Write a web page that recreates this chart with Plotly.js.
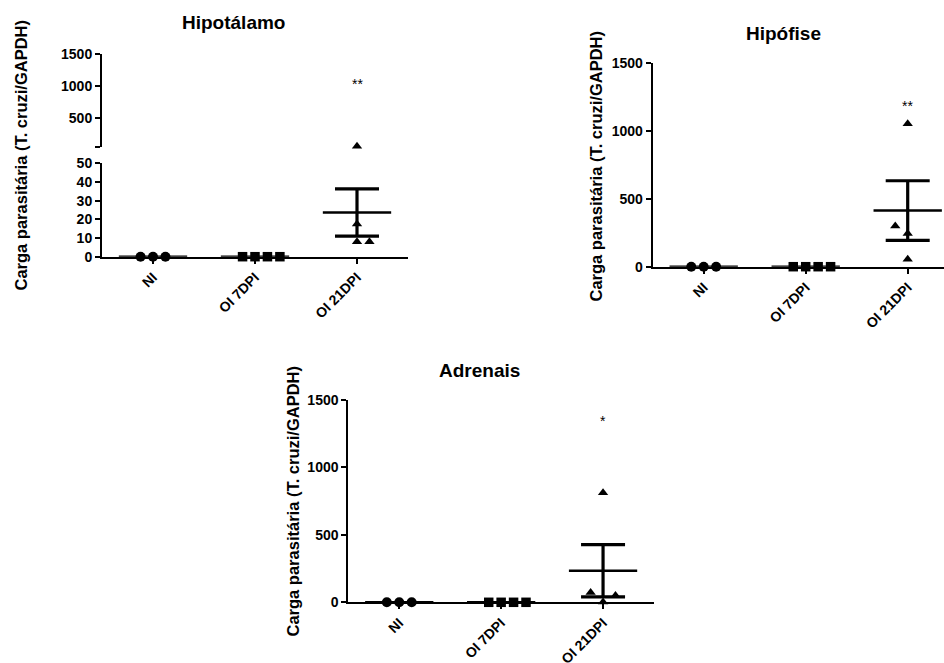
<!DOCTYPE html>
<html>
<head>
<meta charset="utf-8">
<script src="https://cdn.plot.ly/plotly-3.0.1.min.js"></script>
<style>html,body{margin:0;padding:0;background:#fff;}#chart{width:944px;height:663px;}</style>
</head>
<body>
<div id="chart"></div>
<script>
// ---- data ----
const categories = ['NI', 'OI 7DPI', 'OI 21DPI'];
const panelTitles = ['Hipotálamo', 'Hipófise', 'Adrenais'];
const yTitle = 'Carga parasitária (T. cruzi/GAPDH)';

const hipotalamoNI = [0, 0, 0];
const hipotalamoOI7 = [0, 0, 0, 0];
const hipotalamoOI21 = [61, 17.5, 8, 8];

const hipofiseNI = [0, 0, 0];
const hipofiseOI7 = [0, 0, 0, 0];
const hipofiseOI21 = [1055, 300, 245, 55];

const adrenaisNI = [0, 0, 0];
const adrenaisOI7 = [0, 0, 0, 0];
const adrenaisOI21 = [813, 72, 50, 2];

const lowerTicks = [0, 10, 20, 30, 40, 50];
const upperTicks = [500, 1000, 1500];
const fullTicks = [0, 500, 1000, 1500];

const significance = ['**', '**', '*'];

// dot-plot jitter slots (layout helper, not data)
const slotsNI = [-1, 0, 1];
const slotsOI7 = [-1, 0, 1, 2];
const slotsHipotOI21 = [0, 0, 0, 1];
const slotsHipofOI21 = [0, -1, 0, 0];
const slotsAdrenOI21 = [0, -1, 1, 0];

// ---- helpers ----
const FONT = 'Liberation Sans, Arial, Helvetica, sans-serif';
const symbols = ['circle', 'square', 'triangle-up'];
const sizes = [10, 9.5, 9];
const SLOT = 0.122;
const W = 944, H = 663;
const px = v => v / W;
const py = v => 1 - v / H;
const b = t => '<b>' + t + '</b>';

function mean(a) { return a.reduce((s, v) => s + v, 0) / a.length; }
function sem(a) {
  const m = mean(a);
  const v = a.reduce((s, x) => s + (x - m) * (x - m), 0) / (a.length - 1);
  return Math.sqrt(v) / Math.sqrt(a.length);
}

const traces = [];
function addPanel(groups, slots, xa, yaLow, yaHigh, breakAt) {
  groups.forEach((vals, gi) => {
    const xs = vals.map((v, i) => gi + slots[gi][i] * SLOT);
    const lowX = [], lowY = [], hiX = [], hiY = [];
    vals.forEach((v, i) => {
      if (yaHigh && v > breakAt) { hiX.push(xs[i]); hiY.push(v); }
      else { lowX.push(xs[i]); lowY.push(v); }
    });
    const mk = { symbol: symbols[gi], size: sizes[gi], color: 'black' };
    traces.push({ type: 'scatter', mode: 'markers', x: lowX, y: lowY, xaxis: xa, yaxis: yaLow,
      marker: mk, cliponaxis: false, hoverinfo: 'skip', showlegend: false });
    if (hiX.length) {
      traces.push({ type: 'scatter', mode: 'markers', x: hiX, y: hiY, xaxis: xa, yaxis: yaHigh,
        marker: mk, cliponaxis: false, hoverinfo: 'skip', showlegend: false });
    }
    const m = mean(vals), s = sem(vals);
    traces.push({ type: 'scatter', mode: 'lines', x: [gi - 0.335, gi + 0.335], y: [m, m],
      xaxis: xa, yaxis: yaLow, line: { color: 'black', width: 2.5 }, cliponaxis: false,
      hoverinfo: 'skip', showlegend: false });
    if (s > 0) {
      traces.push({ type: 'scatter', mode: 'markers', x: [gi], y: [m], xaxis: xa, yaxis: yaLow,
        marker: { size: 1, color: 'rgba(0,0,0,0)' },
        error_y: { type: 'data', array: [s], visible: true, thickness: 3.2, width: 22, color: 'black' },
        cliponaxis: false, hoverinfo: 'skip', showlegend: false });
    }
  });
}

addPanel([hipotalamoNI, hipotalamoOI7, hipotalamoOI21], [slotsNI, slotsOI7, slotsHipotOI21], 'x', 'y', 'y2', 50);
addPanel([hipofiseNI, hipofiseOI7, hipofiseOI21], [slotsNI, slotsOI7, slotsHipofOI21], 'x2', 'y3', null, 0);
addPanel([adrenaisNI, adrenaisOI7, adrenaisOI21], [slotsNI, slotsOI7, slotsAdrenOI21], 'x3', 'y4', null, 0);

const tickfont = { family: FONT, size: 14, color: 'black', weight: 'bold' };
const axBase = { showline: true, linecolor: 'black', linewidth: 2, ticks: 'outside', ticklen: 5,
  tickwidth: 2, tickcolor: 'black', showgrid: false, zeroline: false, tickfont: tickfont, fixedrange: true };

function xAxis(d0, d1, r1, anchor) {
  return Object.assign({}, axBase, { domain: [px(d0), d1], range: [-0.5, r1], anchor: anchor,
    tickmode: 'array', tickvals: [0, 1, 2], ticktext: categories.map(b), tickangle: -45 });
}
function yAxis(top, bottom, range, anchor, vals, texts) {
  return Object.assign({}, axBase, { domain: [py(bottom), py(top)], range: range, anchor: anchor,
    tickmode: 'array', tickvals: vals, ticktext: texts });
}

const x2right = -0.5 + (944 - 652.7) / 102;

const layout = {
  width: W, height: H, margin: { l: 0, r: 0, t: 0, b: 0 },
  paper_bgcolor: 'white', plot_bgcolor: 'white', showlegend: false,
  font: { family: FONT, color: 'black' },
  xaxis: xAxis(102, px(408), 2.5, 'y'),
  yaxis: yAxis(163.3, 256.7, [0, 50], 'x', lowerTicks, lowerTicks.map(b)),
  yaxis2: yAxis(54.3, 147, [50, 1500], 'x', [50].concat(upperTicks), [''].concat(upperTicks.map(b))),
  xaxis2: xAxis(652.7, 1, x2right, 'y3'),
  yaxis3: yAxis(63.3, 266.7, [0, 1500], 'x2', fullTicks, fullTicks.map(b)),
  xaxis3: xAxis(348.3, px(654), 2.5, 'y4'),
  yaxis4: yAxis(400, 602.3, [0, 1500], 'x3', fullTicks, fullTicks.map(b)),
  annotations: [
    { text: b(panelTitles[0]), xref: 'paper', yref: 'paper', x: px(233), y: py(23), showarrow: false,
      xanchor: 'center', yanchor: 'middle', font: { family: FONT, size: 19, color: 'black' } },
    { text: b(panelTitles[1]), xref: 'paper', yref: 'paper', x: px(783), y: py(33), showarrow: false,
      xanchor: 'center', yanchor: 'middle', font: { family: FONT, size: 19, color: 'black' } },
    { text: b(panelTitles[2]), xref: 'paper', yref: 'paper', x: px(479), y: py(370), showarrow: false,
      xanchor: 'center', yanchor: 'middle', font: { family: FONT, size: 19, color: 'black' } },
    { text: b(yTitle), xref: 'paper', yref: 'paper', x: px(20.5), y: py(155), textangle: -90, showarrow: false,
      xanchor: 'center', yanchor: 'middle', font: { family: FONT, size: 16.5, color: 'black' } },
    { text: b(yTitle), xref: 'paper', yref: 'paper', x: px(595.5), y: py(166), textangle: -90, showarrow: false,
      xanchor: 'center', yanchor: 'middle', font: { family: FONT, size: 16.5, color: 'black' } },
    { text: b(yTitle), xref: 'paper', yref: 'paper', x: px(292.5), y: py(501), textangle: -90, showarrow: false,
      xanchor: 'center', yanchor: 'middle', font: { family: FONT, size: 16.5, color: 'black' } },
    { text: significance[0], xref: 'x', yref: 'y2', x: 2, y: 1040, showarrow: false,
      font: { family: FONT, size: 14, color: 'black' } },
    { text: significance[1], xref: 'x2', yref: 'y3', x: 2, y: 1185, showarrow: false,
      font: { family: FONT, size: 14, color: 'black' } },
    { text: significance[2], xref: 'x3', yref: 'y4', x: 2, y: 1345, showarrow: false,
      font: { family: FONT, size: 14, color: 'black' } }
  ]
};

Plotly.newPlot('chart', traces, layout, { displayModeBar: false, staticPlot: true });
</script>
</body>
</html>
